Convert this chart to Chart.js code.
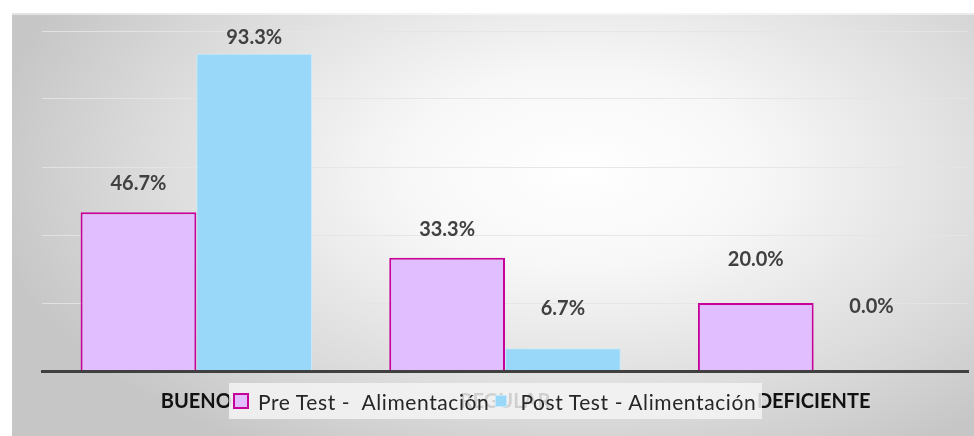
<!DOCTYPE html>
<html>
<head>
<meta charset="utf-8">
<script src="https://cdn.jsdelivr.net/npm/chart.js@4.4.1/dist/chart.umd.min.js"></script>
<style>
body { margin: 0; background: #fff; }
#wrap { position: relative; width: 974px; height: 436px; }
#leyenda {
    position: absolute; left: 229px; top: 383px; height: 36px;
    padding: 0 6px 0 4px; background: rgba(244, 244, 244, 0.84);
    display: flex; align-items: center;
    font-family: Lato, sans-serif; font-size: 21px; letter-spacing: 0.6px;
    color: #262626; white-space: pre;
}
.caja { display: inline-block; box-sizing: border-box; }
</style>
</head>
<body>
<div id="wrap">
    <canvas id="grafico" width="974" height="436"></canvas>
    <div id="leyenda"></div>
</div>
<script>
const categorias = ['BUENO', 'REGULAR', 'DEFICIENTE'];
const preTest = [46.7, 33.3, 20.0];
const postTest = [93.3, 6.7, 0.0];
const series = ['Pre Test -  Alimentación', 'Post Test - Alimentación'];
const ticksY = [0, 20, 40, 60, 80, 100];

// distancia de cada etiqueta sobre su barra (como en el original de Excel)
const alturaEtiquetas = [[29, 28, 43], [16, 40, 64]];

const fondo = {
    id: 'fondo',
    beforeDraw(chart) {
        const ctx = chart.ctx;
        ctx.save();
        ctx.fillStyle = '#ffffff';
        ctx.fillRect(0, 0, chart.width, chart.height);
        ctx.translate(580, 170);
        ctx.scale(1, 0.55);
        const g = ctx.createRadialGradient(0, 0, 0, 0, 0, 600);
        g.addColorStop(0, '#ffffff');
        g.addColorStop(0.3, '#f7f7f7');
        g.addColorStop(0.75, '#d9d9d9');
        g.addColorStop(1, '#c6c6c6');
        ctx.fillStyle = g;
        ctx.fillRect(12 - 580, (13 - 170) / 0.55, chart.width, (chart.height - 13) / 0.55);
        ctx.restore();
        ctx.fillStyle = 'rgba(255,255,255,0.5)';
        ctx.fillRect(12, 13, chart.width - 12, 2);
    }
};

const etiquetas = {
    id: 'etiquetas',
    afterDatasetsDraw(chart) {
        const ctx = chart.ctx;
        ctx.save();
        ctx.font = "bold 20px Lato";
        ctx.fillStyle = '#404040';
        ctx.textAlign = 'center';
        ctx.textBaseline = 'middle';
        chart.data.datasets.forEach((dataset, i) => {
            chart.getDatasetMeta(i).data.forEach((bar, j) => {
                ctx.fillText(dataset.data[j].toFixed(1) + '%', bar.x, bar.y - alturaEtiquetas[i][j]);
            });
        });
        ctx.restore();
    }
};

function crearLeyenda(chart) {
    const div = document.getElementById('leyenda');
    const estilos = [
        {w: 16, h: 16, borde: '2px solid #c8009a', ml: 0, mr: 9},
        {w: 12, h: 12, borde: '1px solid #c5eafc', ml: 6, mr: 13}
    ];
    chart.data.datasets.forEach((dataset, i) => {
        const caja = document.createElement('span');
        caja.className = 'caja';
        caja.style.width = estilos[i].w + 'px';
        caja.style.height = estilos[i].h + 'px';
        caja.style.border = estilos[i].borde;
        caja.style.background = dataset.backgroundColor;
        caja.style.marginLeft = estilos[i].ml + 'px';
        caja.style.marginRight = estilos[i].mr + 'px';
        const texto = document.createElement('span');
        texto.textContent = dataset.label;
        div.appendChild(caja);
        div.appendChild(texto);
    });
}

function crearGrafico() {
    const ctx = document.getElementById('grafico');
    return new Chart(ctx, {
        type: 'bar',
        data: {
            labels: categorias,
            datasets: [{
                label: series[0],
                data: preTest,
                backgroundColor: '#e0beff',
                borderColor: '#c8009a',
                borderWidth: {top: 2, left: 2, right: 2, bottom: 0},
                categoryPercentage: 0.75,
                barPercentage: 1.0
            }, {
                label: series[1],
                data: postTest,
                backgroundColor: '#9ad8f9',
                borderColor: '#c8ecfd',
                borderWidth: 1,
                categoryPercentage: 0.75,
                barPercentage: 1.0
            }]
        },
        options: {
            responsive: false,
            animation: false,
            layout: {padding: {left: 42, right: 6, top: 31, bottom: 0}},
            scales: {
                x: {
                    grid: {display: false, drawTicks: false},
                    border: {display: true, color: '#404040', width: 3, z: 1},
                    ticks: {
                        color: '#111111',
                        padding: 19,
                        font: {family: "Lato", size: 20, weight: 'bold'}
                    },
                    afterFit: (s) => { s.height = 65; }
                },
                y: {
                    min: ticksY[0],
                    max: ticksY[ticksY.length - 1],
                    ticks: {display: false, stepSize: ticksY[1] - ticksY[0]},
                    grid: {color: 'rgba(228,228,228,0.9)', lineWidth: 1, drawTicks: false},
                    border: {display: false},
                    afterFit: (s) => { s.width = 0; }
                }
            },
            plugins: {
                legend: {display: false},
                tooltip: {enabled: false}
            }
        },
        plugins: [fondo, etiquetas]
    });
}

const grafico = crearGrafico();
crearLeyenda(grafico);
</script>
</body>
</html>
